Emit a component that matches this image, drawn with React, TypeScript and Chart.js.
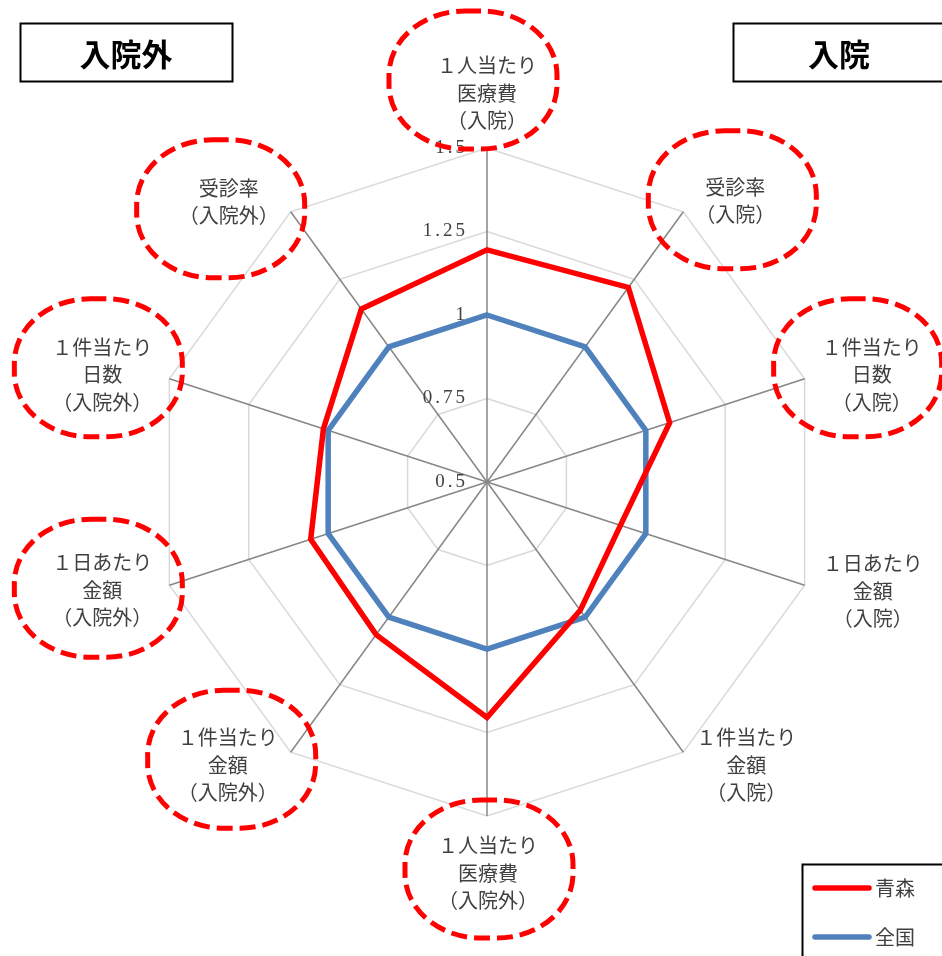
import React, { useEffect, useRef } from "react";
import { Chart, registerables } from "chart.js";

Chart.register(...registerables);

// ---- data ----
const categories: string[][] = [
  ["１人当たり", "医療費", "（入院）"],
  ["受診率", "（入院）"],
  ["１件当たり", "日数", "（入院）"],
  ["１日あたり", "金額", "（入院）"],
  ["１件当たり", "金額", "（入院）"],
  ["１人当たり", "医療費", "（入院外）"],
  ["１件当たり", "金額", "（入院外）"],
  ["１日あたり", "金額", "（入院外）"],
  ["１件当たり", "日数", "（入院外）"],
  ["受診率", "（入院外）"],
];
const circledLabels = [true, true, true, false, false, true, true, true, true, true];
const aomoriValues = [1.195, 1.22, 1.075, 0.92, 0.975, 1.205, 1.065, 1.055, 1.015, 1.14];
const nationalValues = [1, 1, 1, 1, 1, 1, 1, 1, 1, 1];
const seriesNames = ["青森", "全国"];
const seriesColors = ["#FF0000", "#4F81BD"];
const scaleMin = 0.5;
const scaleMax = 1.5;
const scaleStep = 0.25;
const panelTitles = ["入院外", "入院"];

// ---- layout (not data) ----
const LABEL_OFFSETS: [number, number][] = [
  [0, -55], [52, -11], [67, -4], [68, 6], [63, 13],
  [1, 57], [-63, 13], [-67, 5], [-67, -4], [-62, -10],
];
const ELLIPSE_OFFSETS: [number, number][] = [
  [-14, -13], [-3, -1], [-14, -7], [0, 0], [0, 0],
  [1, -4], [4, -6], [-4, -2], [-4, -7], [-8, 7],
];
const CJK = '"Noto Sans CJK JP", "Noto Sans", sans-serif';

const decorPlugin = {
  id: "decor",
  afterDraw(chart: any) {
    const ctx = chart.ctx as CanvasRenderingContext2D;
    const scale = chart.scales.r;
    ctx.save();

    // tick labels (left of vertical axis)
    ctx.fillStyle = "#404040";
    ctx.font = '19px "Liberation Serif", serif';
    ctx.textAlign = "right";
    ctx.textBaseline = "middle";
    try { (ctx as any).letterSpacing = "3px"; } catch (e) {}
    scale.ticks.forEach((t: any) => {
      const y = scale.yCenter - scale.getDistanceFromCenterForValue(t.value);
      ctx.fillText(String(t.value), scale.xCenter - 19, y);
    });
    try { (ctx as any).letterSpacing = "0px"; } catch (e) {}

    // point labels
    ctx.font = "20px " + CJK;
    ctx.textAlign = "center";
    ctx.fillStyle = "#404040";
    const centers: { x: number; y: number }[] = [];
    categories.forEach((lines, i) => {
      const p = scale.getPointPosition(i, scale.drawingArea);
      const cx = p.x + LABEL_OFFSETS[i][0];
      const cy = p.y + LABEL_OFFSETS[i][1];
      centers.push({ x: cx, y: cy });
      const lh = 27.5;
      lines.forEach((ln, k) => {
        ctx.fillText(ln, cx, cy + (k - (lines.length - 1) / 2) * lh);
      });
    });

    // dashed red rounded outlines
    ctx.strokeStyle = "#FF0000";
    ctx.lineWidth = 5;
    ctx.setLineDash([16, 7]);
    centers.forEach((c, i) => {
      if (!circledLabels[i]) return;
      const w = 168, h = 138;
      const ex = c.x + ELLIPSE_OFFSETS[i][0];
      const ey = c.y + ELLIPSE_OFFSETS[i][1];
      ctx.beginPath();
      (ctx as any).roundRect(ex - w / 2, ey - h / 2, w, h, [{ x: 76, y: 64 }]);
      ctx.stroke();
    });
    ctx.setLineDash([]);

    // panel title boxes
    ctx.strokeStyle = "#000";
    ctx.lineWidth = 2;
    ctx.fillStyle = "#000";
    ctx.font = "bold 31px " + CJK;
    ctx.textBaseline = "middle";
    const boxes = [20, 733];
    panelTitles.forEach((t, i) => {
      ctx.strokeRect(boxes[i] + 0.5, 23.5, 212, 58);
      ctx.fillText(t, boxes[i] + 106, 54);
    });

    // legend
    ctx.lineWidth = 2;
    ctx.strokeStyle = "#000";
    ctx.strokeRect(802.5, 864.5, 160, 110);
    ctx.textAlign = "left";
    ctx.font = "20px " + CJK;
    chart.data.datasets.forEach((ds: any, i: number) => {
      const y = 888 + i * 49;
      ctx.strokeStyle = ds.borderColor;
      ctx.lineWidth = 5.5;
      ctx.lineCap = "round";
      ctx.beginPath();
      ctx.moveTo(815, y);
      ctx.lineTo(869, y);
      ctx.stroke();
      ctx.fillStyle = "#404040";
      ctx.fillText(ds.label, 875, y);
    });

    ctx.restore();
  },
};

export default function App() {
  const ref = useRef<HTMLCanvasElement | null>(null);
  useEffect(() => {
    if (!ref.current) return;
    const chart = new Chart(ref.current, {
      type: "radar",
      data: {
        labels: categories,
        datasets: [
          {
            label: seriesNames[0],
            data: aomoriValues,
            borderColor: seriesColors[0],
            backgroundColor: "transparent",
            borderWidth: 5.5,
            pointRadius: 0,
            fill: false,
          },
          {
            label: seriesNames[1],
            data: nationalValues,
            borderColor: seriesColors[1],
            backgroundColor: "transparent",
            borderWidth: 5.5,
            pointRadius: 0,
            fill: false,
          },
        ],
      },
      options: {
        responsive: false,
        animation: false,
        devicePixelRatio: 1,
        layout: { padding: { left: 153, right: 121, top: 148, bottom: 140 } },
        plugins: { legend: { display: false }, tooltip: { enabled: false } },
        elements: { line: { tension: 0, borderJoinStyle: "miter" } },
        scales: {
          r: {
            min: scaleMin,
            max: scaleMax,
            beginAtZero: false,
            ticks: { display: false, stepSize: scaleStep },
            pointLabels: { display: false },
            grid: { color: "#D9D9D9", lineWidth: 1.5, circular: false },
            angleLines: { color: "#868686", lineWidth: 1.5 },
          },
        },
      },
      plugins: [decorPlugin],
    } as any);
    return () => chart.destroy();
  }, []);
  return (
    <div style={{ position: "absolute", left: 0, top: 0, width: 942, height: 956, background: "#fff" }}>
      <canvas ref={ref} width={942} height={956} />
    </div>
  );
}
